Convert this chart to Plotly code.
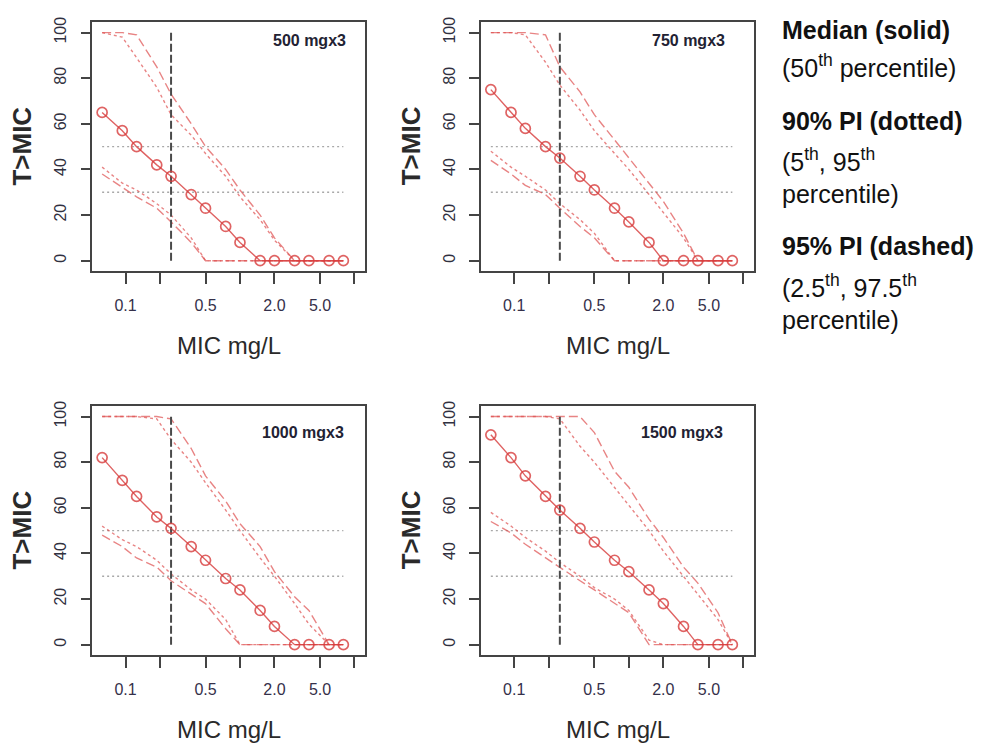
import plotly.graph_objects as go

# ---------------- data ----------------
MIC = [0.0625, 0.09375, 0.125, 0.1875, 0.25, 0.375, 0.5, 0.75, 1, 1.5, 2, 3, 4, 6, 8]

doses = ["500 mgx3", "750 mgx3", "1000 mgx3", "1500 mgx3"]

med_500 = [65, 57, 50, 42, 37, 29, 23, 15, 8, 0, 0, 0, 0, 0, 0]
p95_500 = [100, 98, 89, 76, 64, 55, 47, 37, 28, 18, 9, 0, 0, 0, 0]
p975_500 = [100, 100, 99, 85, 73, 60, 50, 40, 31, 20, 10, 0, 0, 0, 0]
p05_500 = [41, 34, 31, 25, 20, 10, 0, 0, 0, 0, 0, 0, 0, 0, 0]
p025_500 = [38, 32, 28, 23, 17, 8, 0, 0, 0, 0, 0, 0, 0, 0, 0]

med_750 = [75, 65, 58, 50, 45, 37, 31, 23, 17, 8, 0, 0, 0, 0, 0]
p95_750 = [100, 100, 99, 87, 77, 66, 57, 47, 40, 29, 21, 10, 0, 0, 0]
p975_750 = [100, 100, 100, 99, 85, 74, 64, 53, 45, 34, 26, 12, 0, 0, 0]
p05_750 = [48, 41, 37, 31, 25, 18, 12, 0, 0, 0, 0, 0, 0, 0, 0]
p025_750 = [44, 38, 33, 29, 23, 15, 10, 0, 0, 0, 0, 0, 0, 0, 0]

med_1000 = [82, 72, 65, 56, 51, 43, 37, 29, 24, 15, 8, 0, 0, 0, 0]
p95_1000 = [100, 100, 100, 99, 90, 80, 71, 59, 50, 38, 30, 18, 9, 0, 0]
p975_1000 = [100, 100, 100, 100, 99, 86, 74, 63, 53, 43, 32, 21, 15, 0, 0]
p05_1000 = [52, 46, 43, 37, 31, 24, 20, 11, 0, 0, 0, 0, 0, 0, 0]
p025_1000 = [48, 43, 38, 34, 28, 22, 18, 7, 0, 0, 0, 0, 0, 0, 0]

med_1500 = [92, 82, 74, 65, 59, 51, 45, 37, 32, 24, 18, 8, 0, 0, 0]
p95_1500 = [100, 100, 100, 100, 99, 87, 80, 69, 61, 50, 41, 30, 22, 11, 0]
p975_1500 = [100, 100, 100, 100, 100, 100, 93, 76, 69, 55, 47, 34, 27, 14, 0]
p05_1500 = [58, 52, 47, 41, 36, 30, 25, 20, 15, 2, 0, 0, 0, 0, 0]
p025_1500 = [54, 49, 44, 38, 34, 28, 24, 18, 14, 0, 0, 0, 0, 0, 0]

ref_levels = [50, 30]
breakpoint_mic = 0.25

x_tickvals = [0.1, 0.5, 2, 5]
x_ticktext = ["0.1", "0.5", "2.0", "5.0"]
x_minor_ticks = [0.2, 1, 10]
y_tickvals = [0, 20, 40, 60, 80, 100]

panels = [
    (med_500, p95_500, p975_500, p05_500, p025_500),
    (med_750, p95_750, p975_750, p05_750, p025_750),
    (med_1000, p95_1000, p975_1000, p05_1000, p025_1000),
    (med_1500, p95_1500, p975_1500, p05_1500, p025_1500),
]

# ---------------- layout geometry ----------------
OFF = 8  # default page body margin
W, H = 987 - OFF, 746 - OFF
boxes = [  # left, right, top, bottom in screen pixels
    (92.3, 365.0, 16.7, 267.7),
    (481.0, 754.0, 16.7, 267.7),
    (92.3, 365.0, 403.3, 654.3),
    (481.0, 754.0, 403.3, 654.3),
]
label_pos = [(0.938, 0.925), (0.901, 0.925), (0.929, 0.892), (0.894, 0.892)]

RED_LINE = "rgba(215,60,60,0.80)"
RED_PI = "rgba(222,80,80,0.70)"
AX = "#444444"
TXT = "#2a2a2a"


def px(xs):
    return (xs - OFF) / W


def py(ys):
    return 1 - (ys - OFF) / H


fig = go.Figure()
annotations = []
layout = dict(
    width=W, height=H,
    margin=dict(l=0, r=0, t=0, b=0),
    paper_bgcolor="white", plot_bgcolor="white",
    showlegend=False,
    font=dict(family="Liberation Sans, Arial, sans-serif", color=TXT),
)

for i, (vals, box, lp, dose) in enumerate(zip(panels, boxes, label_pos, doses)):
    med, p95, p975, p05, p025 = vals
    n = "" if i == 0 else str(i + 1)
    xa, ya = "x" + n, "y" + n
    l, r, t, b = box
    layout["xaxis" + n] = dict(
        type="log", range=[-1.29, 1.092], domain=[px(l), px(r)], anchor=ya,
        tickvals=x_tickvals, ticktext=x_ticktext, ticks="outside", ticklen=11,
        tickwidth=1.5, tickcolor=AX, showline=True, linecolor=AX, linewidth=1.6,
        mirror=True, showgrid=False, zeroline=False, ticklabelstandoff=8,
        tickfont=dict(size=16, color="#35304a"),
        minor=dict(tickvals=x_minor_ticks, ticks="outside", ticklen=11,
                   tickwidth=1.5, tickcolor=AX, showgrid=False),
    )
    layout["yaxis" + n] = dict(
        range=[-4.5, 104.8], domain=[py(b), py(t)], anchor=xa,
        tickvals=y_tickvals, ticks="outside", ticklen=10, tickwidth=1.5,
        tickcolor=AX, showline=True, linecolor=AX, linewidth=1.6, mirror=True,
        showgrid=False, zeroline=False, tickangle=-90, ticklabelstandoff=8,
        tickfont=dict(size=16, color="#303040"),
    )
    # reference horizontal lines
    for lvl in ref_levels:
        fig.add_trace(go.Scatter(
            x=[MIC[0], MIC[-1]], y=[lvl, lvl], mode="lines", xaxis=xa, yaxis=ya,
            line=dict(color="#a8a8a8", width=1.4, dash="2px,3px"), hoverinfo="skip"))
    # percentile bands
    for series, dash in ((p975, "9px,4px"), (p025, "9px,4px"),
                         (p95, "3px,3px"), (p05, "3px,3px")):
        fig.add_trace(go.Scatter(
            x=MIC, y=series, mode="lines", xaxis=xa, yaxis=ya,
            line=dict(color=RED_PI, width=1.4, dash=dash)))
    # breakpoint vertical line
    fig.add_trace(go.Scatter(
        x=[breakpoint_mic, breakpoint_mic], y=[0, 100], mode="lines",
        xaxis=xa, yaxis=ya, line=dict(color="#4a4a4a", width=2, dash="8px,3px")))
    # median
    fig.add_trace(go.Scatter(
        x=MIC, y=med, mode="lines+markers", xaxis=xa, yaxis=ya,
        line=dict(color=RED_LINE, width=1.4),
        marker=dict(symbol="circle-open", size=10, color=RED_LINE,
                    line=dict(width=1.7, color=RED_LINE))))
    # dose label
    annotations.append(dict(
        text="<b>%s</b>" % dose, xref=xa + " domain", yref=ya + " domain",
        x=lp[0], y=lp[1], xanchor="right", yanchor="middle", showarrow=False,
        font=dict(size=16, color="#222233")))
    # axis titles
    annotations.append(dict(
        text="<b>T>MIC</b>", xref="paper", yref="paper",
        x=px(l - 70), y=py((t + b) / 2), textangle=-90,
        xanchor="center", yanchor="middle", showarrow=False,
        font=dict(size=26, color=TXT)))
    annotations.append(dict(
        text="MIC mg/L", xref="paper", yref="paper",
        x=px((l + r) / 2), y=py(b + 75),
        xanchor="center", yanchor="middle", showarrow=False,
        font=dict(size=24, color=TXT)))

# ---------------- side legend text ----------------
legend_lines = [
    ("<b>Median (solid)</b>", 25),
    ("(50<sup>th</sup> percentile)", 61),
    ("<b>90% PI (dotted)</b>", 117),
    ("(5<sup>th</sup>, 95<sup>th</sup>", 156),
    ("percentile)", 190),
    ("<b>95% PI (dashed)</b>", 243),
    ("(2.5<sup>th</sup>, 97.5<sup>th</sup>", 283),
    ("percentile)", 317),
]
for txt, yy in legend_lines:
    annotations.append(dict(
        text=txt, xref="paper", yref="paper", x=px(780), y=py(yy),
        xanchor="left", yanchor="middle", showarrow=False,
        font=dict(size=25, color="#111111")))

layout["annotations"] = annotations
fig.update_layout(**layout)
fig.write_html("out.html")
